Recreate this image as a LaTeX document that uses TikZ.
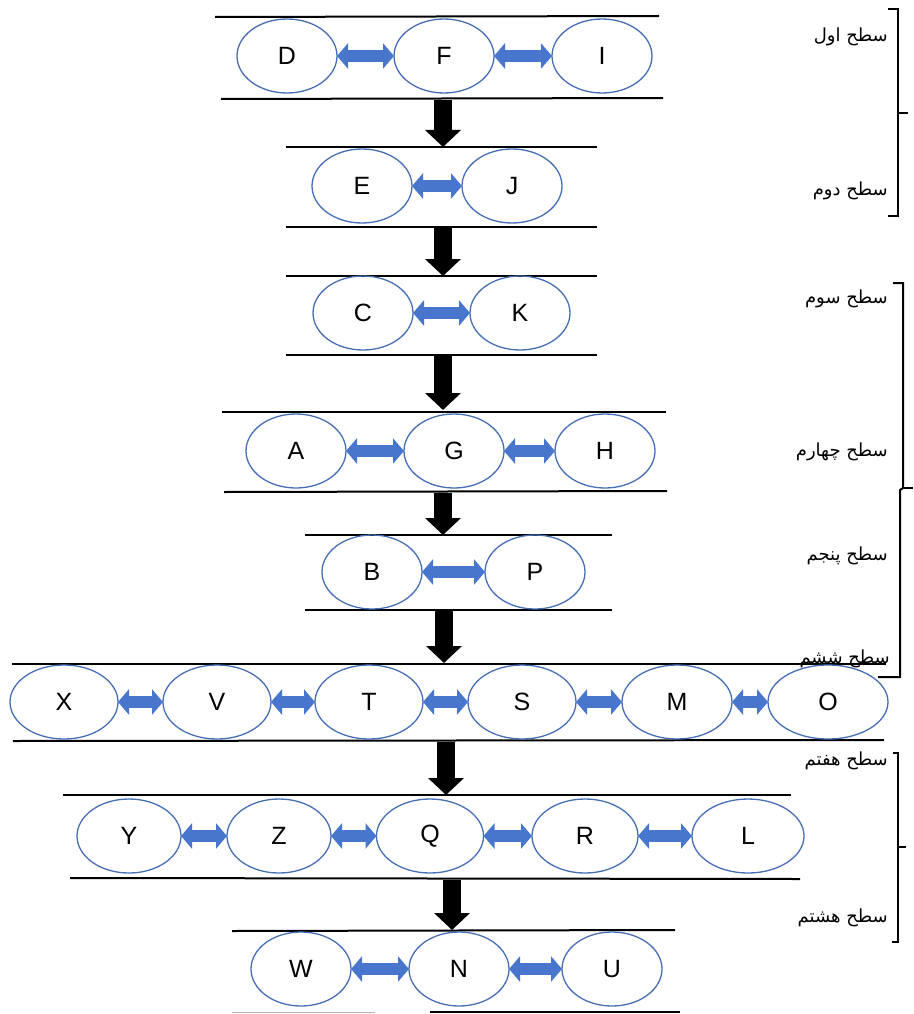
\documentclass[tikz,border=0pt]{standalone}
\usepackage{fontspec}
\setmainfont{Liberation Sans}
\newfontfamily\arabicfont[Script=Arabic]{DejaVu Sans}
\TeXXeTstate=1
\usetikzlibrary{shapes.geometric,arrows.meta}
\definecolor{ellblue}{RGB}{70,110,180}
\definecolor{arrblue}{RGB}{72,118,205}
\tikzset{
  ell/.style={ellipse, draw=ellblue, line width=1.3pt, minimum width=100pt, minimum height=74pt, inner sep=0pt, outer sep=0pt, font=\fontsize{25}{30}\selectfont},
  barrow/.style={draw=arrblue, line width=12pt, {Triangle[width=25pt,length=11pt]}-{Triangle[width=25pt,length=11pt]}},
  darrow/.style={draw=black, line width=18pt, -{Triangle[width=35pt,length=17pt]}},
  hline/.style={draw=black, line width=2pt},
  lab/.style={anchor=east, inner sep=0pt, font=\arabicfont\fontsize{18}{21}\selectfont},
  brk/.style={draw=black, line width=2pt}
}
\begin{document}
\begin{tikzpicture}[x=1pt,y=-1pt]
\useasboundingbox (0,0) rectangle (913,1014);
% ---------- level lines ----------
\draw[hline] (215,17) -- (659,16);
\draw[hline] (221,99) -- (663,98);
\draw[hline] (286,147) -- (597,147);
\draw[hline] (286,227) -- (597,227);
\draw[hline] (286,276) -- (597,276);
\draw[hline] (286,355) -- (597,355);
\draw[hline] (222,412) -- (666,412);
\draw[hline] (224,492) -- (667,491);
\draw[hline] (305,535) -- (612,535);
\draw[hline] (305,610) -- (612,610);
\draw[hline] (12,664) -- (886,664);
\draw[hline] (13,741) -- (884,740);
\draw[hline] (63,795) -- (791,795);
\draw[hline] (70,878) -- (800,879);
\draw[hline] (232,931) -- (675,930);
\draw[hline] (430,1012) -- (680,1012);
\draw[draw=gray!60, line width=1pt] (232,1012) -- (375,1012);
% ---------- row 1 ----------
\node[ell] (D) at (287,56) {D};
\node[ell] (F) at (444,56) {F};
\node[ell] (I) at (602,56) {I};
\draw[barrow] (D) -- (F);
\draw[barrow] (F) -- (I);
% ---------- row 2 ----------
\node[ell] (E) at (362,186) {E};
\node[ell] (J) at (512,186) {J};
\draw[barrow] (E) -- (J);
% ---------- row 3 ----------
\node[ell] (C) at (363,313) {C};
\node[ell] (K) at (520,313) {K};
\draw[barrow] (C) -- (K);
% ---------- row 4 ----------
\node[ell] (A) at (296,451) {A};
\node[ell] (G) at (454,451) {G};
\node[ell] (H) at (605,451) {H};
\draw[barrow] (A) -- (G);
\draw[barrow] (G) -- (H);
% ---------- row 5 ----------
\node[ell] (B) at (372,572) {B};
\node[ell] (P) at (535,572) {P};
\draw[barrow] (B) -- (P);
% ---------- row 6 ----------
\node[ell, minimum width=108pt] (X) at (64,702) {X};
\node[ell, minimum width=108pt] (V) at (217,702) {V};
\node[ell, minimum width=108pt] (T) at (369,702) {T};
\node[ell, minimum width=108pt] (S) at (522,702) {S};
\node[ell, minimum width=110pt] (M) at (677,702) {M};
\node[ell, minimum width=120pt] (O) at (828,702) {O};
\draw[barrow] (X) -- (V);
\draw[barrow] (V) -- (T);
\draw[barrow] (T) -- (S);
\draw[barrow] (S) -- (M);
\draw[barrow] (M) -- (O);
% ---------- row 7 ----------
\node[ell, minimum width=104pt] (Y) at (129,836) {Y};
\node[ell, minimum width=104pt] (Z) at (279,836) {Z};
\node[ell, minimum width=107pt] (Q) at (430,836) {Q};
\node[ell, minimum width=106pt] (R) at (585,836) {R};
\node[ell, minimum width=112pt] (L) at (748,836) {L};
\draw[barrow] (Y) -- (Z);
\draw[barrow] (Z) -- (Q);
\draw[barrow] (Q) -- (R);
\draw[barrow] (R) -- (L);
% ---------- row 8 ----------
\node[ell] (W) at (301,969) {W};
\node[ell] (N) at (459,969) {N};
\node[ell] (U) at (612,969) {U};
\draw[barrow] (W) -- (N);
\draw[barrow] (N) -- (U);
% ---------- down arrows ----------
\coordinate (d1s) at (443,100);  \coordinate (d1e) at (443,147);
\coordinate (d2s) at (443,228);  \coordinate (d2e) at (443,276);
\coordinate (d3s) at (443,356);  \coordinate (d3e) at (443,410);
\coordinate (d4s) at (443,493);  \coordinate (d4e) at (443,535);
\coordinate (d5s) at (444,611);  \coordinate (d5e) at (444,663);
\coordinate (d6s) at (446,742);  \coordinate (d6e) at (446,795);
\coordinate (d7s) at (452,880);  \coordinate (d7e) at (452,930);
\draw[darrow] (d1s) -- (d1e);
\draw[darrow] (d2s) -- (d2e);
\draw[darrow] (d3s) -- (d3e);
\draw[darrow] (d4s) -- (d4e);
\draw[darrow] (d5s) -- (d5e);
\draw[darrow] (d6s) -- (d6e);
\draw[darrow] (d7s) -- (d7e);
% ---------- labels ----------
\node[lab] (l1) at (888,37) {\beginR سطح اول\endR};
\node[lab] (l2) at (888,191) {\beginR سطح دوم\endR};
\node[lab] (l3) at (888,299) {\beginR سطح سوم\endR};
\node[lab] (l4) at (888,452) {\beginR سطح چهارم\endR};
\node[lab] (l5) at (888,556) {\beginR سطح پنجم\endR};
\node[lab] (l6) at (890,659) {\beginR سطح ششم\endR};
\node[lab] (l7) at (888,761) {\beginR سطح هفتم\endR};
\node[lab] (l8) at (888,918) {\beginR سطح هشتم\endR};
% ---------- brackets ----------
\draw[brk] (888,9) -- (898,9) -- (898,216) -- (888,216);
\draw[brk] (898,113) -- (908,113);
\draw[brk] (893,283) -- (903,283) -- (903,488) -- (900,490) -- (900,677) -- (878,677);
\draw[brk] (903,488) -- (913,488);
\draw[brk] (893,753) -- (898,753) -- (898,942) -- (892,942);
\draw[brk] (898,847) -- (906,847);
\end{tikzpicture}
\end{document}
